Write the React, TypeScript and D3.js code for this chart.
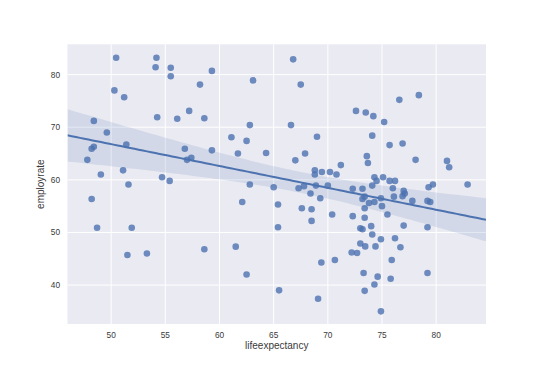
import React from 'react';
import * as d3 from 'd3';

// life expectancy (years) per country
const lifeexpectancy = [
  50.46, 54.18, 54.1, 55.5, 55.5, 59.3, 58.2, 63.1, 50.3, 51.2, 57.2, 54.25, 58.6, 56.1, 48.4, 62.8,
  49.6, 61.1, 62.5, 51.4, 48.4, 48.2, 56.8, 59.3, 61.7, 64.3, 57.4, 57.0, 47.8, 49.05, 51.1, 54.7,
  55.4, 51.6, 62.8, 65.0, 48.2, 62.1, 65.4, 48.7, 51.9, 65.4, 51.5, 53.3, 58.6, 61.5, 62.5, 65.5,
  66.8, 67.5, 78.4, 76.6, 72.6, 73.5, 74.2, 75.2, 66.6, 74.1, 69.0, 76.9, 75.7, 67.9, 73.6, 67.0,
  73.7, 78.1, 81.0, 81.2, 71.2, 68.8, 69.45, 70.2, 68.8, 70.8, 74.3, 74.5, 75.1, 75.7, 76.2, 79.7,
  82.9, 67.3, 67.8, 68.9, 70.0, 72.3, 73.2, 74.1, 76.0, 77.0, 77.1, 79.3, 68.4, 69.3, 73.2, 73.4,
  73.8, 74.3, 74.9, 76.1, 76.9, 77.8, 79.2, 79.45, 75.0, 67.6, 68.5, 73.4, 70.4, 72.3, 73.4, 75.5,
  68.5, 73.0, 73.2, 74.0, 77.0, 79.2, 74.1, 74.9, 76.2, 73.0, 73.45, 74.4, 76.7, 72.2, 72.7, 69.4,
  70.65, 75.9, 73.3, 74.6, 79.2, 75.8, 74.3, 73.4, 69.1, 74.9,
];

// employment rate (%) per country, same order
const employrate = [
  83.2, 83.2, 81.4, 81.3, 79.7, 80.7, 78.1, 78.9, 77.0, 75.7, 73.1, 71.9, 71.7, 71.6, 71.2, 70.4,
  69.0, 68.1, 67.4, 66.7, 66.3, 65.9, 65.9, 65.6, 65.0, 65.1, 64.2, 63.8, 63.8, 61.0, 61.8, 60.5,
  59.8, 59.1, 59.1, 58.6, 56.35, 55.8, 55.3, 50.9, 50.9, 51.0, 45.7, 46.0, 46.8, 47.3, 42.0, 39.0,
  82.9, 78.1, 76.1, 75.2, 73.1, 72.8, 72.1, 71.0, 70.4, 68.4, 68.2, 66.9, 66.6, 65.0, 64.5, 63.7,
  63.2, 63.8, 63.6, 62.4, 62.8, 61.8, 61.5, 61.5, 61.0, 61.0, 60.5, 59.8, 60.5, 59.8, 59.8, 59.1,
  59.1, 58.4, 58.8, 58.9, 58.9, 58.3, 58.3, 58.9, 58.4, 57.9, 57.4, 58.6, 57.4, 56.5, 56.35, 56.8,
  55.6, 55.8, 56.5, 56.8, 56.9, 56.0, 56.0, 55.8, 55.0, 54.6, 54.4, 54.6, 53.4, 53.1, 52.8, 53.4,
  52.2, 50.8, 50.6, 51.2, 51.3, 51.0, 49.6, 48.7, 48.9, 47.9, 47.35, 47.35, 47.2, 46.2, 46.1, 44.3,
  44.75, 44.75, 42.3, 41.6, 42.3, 41.2, 40.1, 38.9, 37.4, 35.0,
];

const xTicks = [50, 55, 60, 65, 70, 75, 80];
const yTicks = [40, 50, 60, 70, 80];

const W = 540;
const H = 371;
const plot = { left: 67.5, right: 486, top: 44.3, bottom: 324 };
const blue = '#4C72B0';

export default function App() {
  const x = d3.scaleLinear().domain([45.97, 84.6]).range([plot.left, plot.right]);
  const y = d3.scaleLinear().domain([32.6, 85.76]).range([plot.bottom, plot.top]);

  // least squares fit, band widened a bit to look like seaborn's bootstrap CI
  const n = lifeexpectancy.length;
  const xbar = d3.mean(lifeexpectancy) as number;
  const ybar = d3.mean(employrate) as number;
  const sxx = d3.sum(lifeexpectancy, (v) => (v - xbar) ** 2);
  const sxy = d3.sum(lifeexpectancy, (v, i) => (v - xbar) * (employrate[i] - ybar));
  const slope = sxy / sxx;
  const intercept = ybar - slope * xbar;
  const resid = d3.sum(lifeexpectancy, (v, i) => (employrate[i] - (intercept + slope * v)) ** 2);
  const s = Math.sqrt(resid / (n - 2));
  const [x0, x1] = x.domain();
  const grid = d3.range(0, 101).map((k) => x0 + ((x1 - x0) * k) / 100);
  const fit = grid.map((gx) => {
    const yhat = intercept + slope * gx;
    const ci = 1.977 * 1.17 * s * Math.sqrt(1 / n + (gx - xbar) ** 2 / sxx);
    return { gx, yhat, lo: yhat - ci, hi: yhat + ci };
  });

  const band = d3
    .area<{ gx: number; lo: number; hi: number }>()
    .x((d) => x(d.gx))
    .y0((d) => y(d.lo))
    .y1((d) => y(d.hi));
  const line = d3
    .line<{ gx: number; yhat: number }>()
    .x((d) => x(d.gx))
    .y((d) => y(d.yhat));

  const font = '"Liberation Sans", Arial, sans-serif';
  const textColor = '#3a3a3a';

  return (
    <svg
      width={W}
      height={H}
      style={{ position: 'absolute', left: 0, top: 0, background: '#fff' }}
      fontFamily={font}
    >
      <defs>
        <clipPath id="plot-clip">
          <rect x={plot.left} y={plot.top} width={plot.right - plot.left} height={plot.bottom - plot.top} />
        </clipPath>
      </defs>
      <rect
        x={plot.left}
        y={plot.top}
        width={plot.right - plot.left}
        height={plot.bottom - plot.top}
        fill="#EAEAF2"
      />
      {/* grid */}
      {xTicks.map((t) => (
        <line key={'gx' + t} x1={x(t)} x2={x(t)} y1={plot.top} y2={plot.bottom} stroke="#fff" strokeWidth={1} />
      ))}
      {yTicks.map((t) => (
        <line key={'gy' + t} x1={plot.left} x2={plot.right} y1={y(t)} y2={y(t)} stroke="#fff" strokeWidth={1} />
      ))}

      <g clipPath="url(#plot-clip)">
        {/* points */}
        {lifeexpectancy.map((v, i) => (
          <circle key={i} cx={x(v)} cy={y(employrate[i])} r={3.3} fill={blue} fillOpacity={0.8} />
        ))}
        <path d={band(fit) as string} fill={blue} fillOpacity={0.15} />
        <path d={line(fit) as string} fill="none" stroke={blue} strokeWidth={2} />
      </g>

      {/* tick labels */}
      {xTicks.map((t) => (
        <text key={'tx' + t} x={x(t)} y={338} textAnchor="middle" fontSize={8.3} fill={textColor}>
          {t}
        </text>
      ))}
      {yTicks.map((t) => (
        <text key={'ty' + t} x={60} y={y(t)} dy="0.35em" textAnchor="end" fontSize={8.3} fill={textColor}>
          {t}
        </text>
      ))}

      <text x={(plot.left + plot.right) / 2} y={349} textAnchor="middle" fontSize={10} fill={textColor}>
        lifeexpectancy
      </text>
      <text
        transform={`translate(44, ${(plot.top + plot.bottom) / 2}) rotate(-90)`}
        textAnchor="middle"
        fontSize={10}
        fill={textColor}
      >
        employrate
      </text>
    </svg>
  );
}
